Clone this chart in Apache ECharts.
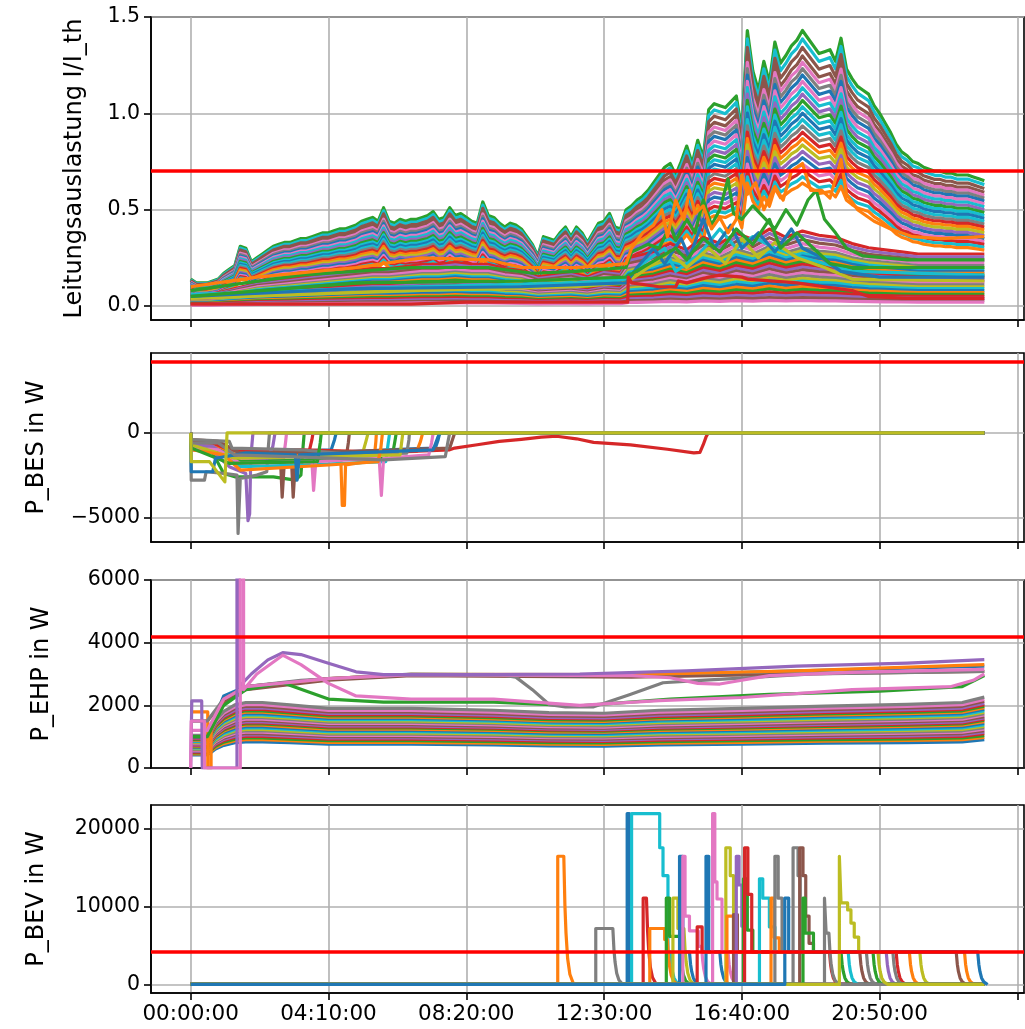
<!DOCTYPE html>
<html>
<head>
<meta charset="utf-8">
<script src="https://cdn.jsdelivr.net/npm/echarts@6/dist/echarts.min.js"></script>
<style>
  html, body { margin: 0; padding: 0; background: #fff; }
  #chart { width: 1025px; height: 1029px; }
</style>
</head>
<body>
<div id="chart"></div>
<script>
// ---- time axis (minutes since midnight) ----
const dayEnd = 1440;
const timeTicks = [0, 250, 500, 750, 1000, 1250, 1500];
const timeLabels = ["00:00:00", "04:10:00", "08:20:00", "12:30:00", "16:40:00", "20:50:00", ""];

// ---- panel 1: line loading I/I_th ----
const limitLoad = 0.7;
const loadStep = 10; // minutes between samples of loadTop
// highest feeder (top envelope), read every 10 min
const loadTop = [
  0.14, 0.12, 0.12, 0.12, 0.13, 0.14, 0.17, 0.19, 0.21, 0.31,
  0.30, 0.23, 0.25, 0.27, 0.29, 0.31, 0.32, 0.33, 0.33, 0.34,
  0.35, 0.35, 0.36, 0.37, 0.38, 0.38, 0.39, 0.40, 0.40, 0.41,
  0.42, 0.44, 0.45, 0.46, 0.44, 0.51, 0.44, 0.43, 0.45, 0.44,
  0.45, 0.45, 0.46, 0.47, 0.49, 0.45, 0.46, 0.51, 0.47, 0.48,
  0.46, 0.44, 0.43, 0.54, 0.47, 0.46, 0.43, 0.41, 0.43, 0.42,
  0.40, 0.36, 0.32, 0.26, 0.36, 0.35, 0.34, 0.38, 0.41, 0.36,
  0.41, 0.38, 0.33, 0.38, 0.43, 0.44, 0.48, 0.41, 0.40, 0.50,
  0.52, 0.55, 0.57, 0.60, 0.64, 0.68, 0.72, 0.74, 0.68, 0.75,
  0.83, 0.74, 0.86, 0.77, 1.02, 1.05, 1.04, 1.03, 1.06, 1.09,
  0.91, 1.43, 1.22, 1.12, 1.27, 1.16, 1.37, 1.26, 1.30, 1.35,
  1.38, 1.43, 1.39, 1.35, 1.31, 1.32, 1.33, 1.27, 1.39, 1.23,
  1.18, 1.14, 1.12, 1.10, 1.04, 1.00, 0.95, 0.90, 0.84, 0.80,
  0.78, 0.75, 0.74, 0.72, 0.71, 0.70, 0.70, 0.69, 0.69, 0.68,
  0.68, 0.68, 0.67, 0.66, 0.65
];
// a typical lower feeder, read every 30 min
const loadLow = [
  [0, 0.05], [30, 0.05], [60, 0.07], [90, 0.09], [120, 0.11], [150, 0.12], [180, 0.13],
  [210, 0.14], [240, 0.15], [270, 0.16], [300, 0.17], [330, 0.18], [360, 0.18], [390, 0.19],
  [420, 0.20], [450, 0.20], [480, 0.21], [510, 0.20], [540, 0.20], [570, 0.18], [600, 0.17],
  [630, 0.14], [660, 0.15], [690, 0.16], [720, 0.14], [750, 0.17], [780, 0.16], [795, 0.23],
  [810, 0.24], [840, 0.26], [870, 0.30], [900, 0.27], [930, 0.33], [960, 0.30], [990, 0.35],
  [1020, 0.32], [1050, 0.37], [1080, 0.33], [1110, 0.36], [1140, 0.34], [1170, 0.33],
  [1200, 0.30], [1230, 0.28], [1260, 0.27], [1290, 0.26], [1320, 0.25], [1350, 0.25],
  [1380, 0.25], [1410, 0.25], [1440, 0.25]
];
// end-of-day level of each feeder (read at 23:59)
const eveningTop = [0.65, 0.63, 0.61, 0.59, 0.575, 0.56, 0.545, 0.53, 0.515, 0.5, 0.485, 0.47,
  0.455, 0.44, 0.425, 0.41, 0.395, 0.38, 0.365, 0.35, 0.335, 0.32, 0.305, 0.29];
const eveningLow = [0.27, 0.255, 0.24, 0.225, 0.21, 0.2, 0.19, 0.18, 0.17, 0.16, 0.15, 0.14,
  0.13, 0.12, 0.11, 0.1, 0.09, 0.08, 0.07, 0.06, 0.05, 0.04, 0.03, 0.02];
// feeders disturbed by EV charging in the afternoon
const loadOrange = [[0, 0.1], [120, 0.15], [300, 0.2], [420, 0.25], [540, 0.24], [600, 0.2], [700, 0.2],
  [790, 0.22], [800, 0.3], [820, 0.38], [840, 0.42], [855, 0.5], [865, 0.36], [880, 0.55], [895, 0.45],
  [905, 0.6], [915, 0.48], [930, 0.52], [945, 0.4], [960, 0.46], [975, 0.38], [990, 0.45], [1000, 0.68],
  [1010, 0.58], [1025, 0.64], [1040, 0.5], [1060, 0.62], [1075, 0.55], [1090, 0.7], [1110, 0.74],
  [1125, 0.6], [1145, 0.6], [1160, 0.56], [1180, 0.76], [1190, 0.58], [1210, 0.5], [1240, 0.44],
  [1270, 0.4], [1310, 0.36], [1360, 0.35], [1440, 0.36]];
const loadGreen = [[0, 0.08], [200, 0.16], [400, 0.2], [540, 0.2], [620, 0.17], [700, 0.18], [790, 0.2],
  [800, 0.28], [830, 0.32], [850, 0.3], [870, 0.42], [880, 0.34], [900, 0.45], [915, 0.38], [930, 0.55],
  [945, 0.42], [960, 0.5], [975, 0.66], [985, 0.48], [1000, 0.45], [1020, 0.52], [1040, 0.46], [1060, 0.4],
  [1080, 0.5], [1100, 0.42], [1120, 0.55], [1135, 0.6], [1150, 0.45], [1170, 0.38], [1190, 0.3],
  [1220, 0.26], [1300, 0.24], [1440, 0.24]];
const loadGreen2 = [[0, 0.05], [300, 0.12], [600, 0.13], [790, 0.15], [820, 0.2], [850, 0.25], [880, 0.3],
  [900, 0.24], [930, 0.35], [960, 0.28], [990, 0.4], [1020, 0.32], [1050, 0.45], [1070, 0.3], [1100, 0.38],
  [1130, 0.3], [1160, 0.22], [1200, 0.2], [1440, 0.2]];
const loadBlue = [[0, 0.05], [300, 0.09], [600, 0.1], [790, 0.12], [810, 0.2], [840, 0.3], [860, 0.22],
  [890, 0.35], [905, 0.25], [930, 0.45], [950, 0.3], [980, 0.42], [1000, 0.3], [1030, 0.38], [1060, 0.28],
  [1090, 0.4], [1110, 0.3], [1140, 0.26], [1180, 0.18], [1250, 0.15], [1440, 0.15]];
const loadOlive = [[0, 0.04], [400, 0.08], [700, 0.1], [790, 0.12], [830, 0.2], [870, 0.28], [900, 0.2],
  [940, 0.3], [970, 0.22], [1000, 0.35], [1030, 0.25], [1060, 0.33], [1100, 0.25], [1150, 0.2],
  [1200, 0.14], [1440, 0.13]];
const loadCyan = [[0, 0.06], [400, 0.1], [700, 0.12], [790, 0.14], [820, 0.22], [860, 0.3], [880, 0.18],
  [920, 0.26], [960, 0.4], [990, 0.3], [1020, 0.36], [1060, 0.3], [1100, 0.26], [1150, 0.22],
  [1200, 0.18], [1440, 0.16]];
const loadRed = [[0, 0.01], [400, 0.01], [500, 0.02], [600, 0.02], [793, 0.02], [794, 0.15], [800, 0.12],
  [850, 0.1], [880, 0.1], [885, 0.13], [900, 0.12], [940, 0.15], [960, 0.16], [1000, 0.15], [1010, 0.14],
  [1100, 0.12], [1150, 0.1], [1200, 0.08], [1230, 0.05], [1300, 0.04], [1440, 0.04]];

// ---- panel 2: battery storage P_BES (W) ----
const limitPower = 4200;
const besLines = [
  [[0, 0], [1, -700], [40, -800], [60, -1300], [100, -1400], [200, -1300], [300, -1100], [400, -950], [444, -900], [449, -400], [452, 0], [1440, 0]],
  [[0, 0], [1, -600], [40, -700], [70, -1300], [150, -1200], [272, -1100], [275, -4300], [279, -4300], [281, -1900], [320, -1700], [333, -1500], [336, -500], [337, 0], [1440, 0]],
  [[0, 0], [1, -800], [35, -900], [60, -2400], [80, -2600], [150, -2600], [190, -2800], [200, -2500], [204, -800], [206, 0], [1440, 0]],
  [[0, 0], [1, -500], [60, -700], [90, -1200], [215, -1100], [220, -400], [222, 0], [1440, 0]],
  [[0, 0], [1, -1000], [40, -1100], [70, -2000], [100, -2400], [104, -5200], [107, -4800], [109, -1500], [113, 0], [1440, 0]],
  [[0, 0], [1, -500], [40, -600], [80, -1500], [163, -1600], [166, -3800], [170, -1700], [183, -1700], [186, -3800], [190, -1700], [282, -1500], [286, -600], [288, 0], [1440, 0]],
  [[0, 0], [1, -600], [40, -700], [80, -1500], [168, -1600], [172, -600], [174, 0], [1440, 0]],
  [[0, 0], [1, -2800], [25, -2800], [28, -2300], [60, -2400], [84, -2500], [86, -5950], [88, -5950], [90, -2700], [120, -2500], [138, -2300], [141, -800], [143, 0], [1440, 0]],
  [[0, 0], [1, -500], [80, -1000], [312, -1200], [318, -500], [322, 0], [1440, 0]],
  [[0, 0], [1, -800], [60, -1000], [90, -2000], [200, -1900], [354, -1700], [358, -700], [361, 0], [1440, 0]],
  [[0, 0], [1, -600], [40, -700], [80, -1200], [255, -1000], [261, -400], [264, 0], [1440, 0]],
  [[0, 0], [1, -700], [50, -800], [90, -1400], [410, -1100], [417, -500], [421, 0], [1440, 0]],
  [[0, 0], [1, -600], [90, -1700], [365, -1500], [370, -600], [373, 0], [1440, 0]],
  [[0, 0], [1, -500], [40, -600], [70, -1000], [200, -1000], [300, -1100], [400, -1100], [470, -1000], [479, -900], [520, -700], [560, -500], [600, -380], [636, -250], [664, -200], [700, -350], [731, -560], [798, -710], [865, -970], [913, -1180], [924, -1150], [930, -700], [935, -250], [939, 0], [1440, 0]],
  [[0, 0], [1, -700], [40, -800], [70, -1400], [140, -1500], [149, -800], [153, 0], [1440, 0]],
  [[0, 0], [1, -400], [50, -500], [90, -1200], [300, -1100], [470, -900], [476, -300], [479, 0], [1440, 0]],
  [[0, 0], [1, -900], [50, -1000], [90, -1800], [220, -1700], [223, -3400], [227, -1700], [342, -1500], [346, -3700], [350, -1500], [432, -1300], [437, -600], [440, 0], [1440, 0]],
  [[0, 0], [1, -400], [70, -500], [75, -900], [200, -1000], [300, -1300], [392, -1200], [396, -400], [397, 0], [1440, 0]],
  [[0, 0], [1, -700], [80, -1500], [380, -1300], [383, -500], [385, 0], [1440, 0]],
  [[0, 0], [1, -1000], [60, -1300], [90, -2200], [250, -1900], [340, -1700], [345, -900], [348, 0], [1440, 0]],
  [[0, 0], [1, -900], [70, -1800], [230, -1700], [235, -600], [237, 0], [1440, 0]],
  [[0, 0], [1, -2300], [40, -2300], [45, -1500], [100, -1200], [190, -1300], [193, -2800], [197, -1300], [440, -1000], [448, -300], [452, 0], [1440, 0]],
  [[0, 0], [1, -600], [50, -600], [80, -1300], [350, -1600], [462, -1400], [467, -500], [470, 0], [1440, 0]],
  [[0, 0], [1, -1700], [34, -1700], [62, -2900], [65, -2900], [66, 0], [1440, 0]]
];
const besColors = ["blue", "orange", "green", "red", "purple", "brown", "pink", "gray", "olive", "cyan",
  "blue", "orange", "green", "red", "purple", "brown", "pink", "gray", "olive", "orange",
  "green", "blue", "gray", "olive"];

// ---- panel 3: heat pumps P_EHP (W) ----
const ehpTimes = [0, 28, 35, 45, 60, 80, 100, 130, 180, 250, 400, 550, 650, 750, 850, 1000, 1150, 1300, 1400, 1440];
const ehpShape = [0.55, 0.55, 0.62, 0.8, 0.95, 1.06, 1.1, 1.1, 1.06, 1.0, 1.0, 0.97, 0.93, 0.92, 0.97, 1.0, 1.04, 1.07, 1.1, 1.19];
const ehpLevels = [760, 820, 870, 920, 960, 1000, 1040, 1080, 1120, 1160, 1200, 1240, 1280, 1310,
  1340, 1380, 1420, 1460, 1500, 1540, 1580, 1620, 1660, 1700, 1740, 1790, 1840, 1900];
const ehpUpper = [
  [[0, 1500], [30, 1500], [60, 2100], [100, 2500], [250, 2800], [400, 2950], [800, 2900], [1100, 3000], [1440, 3080]],
  [[0, 1000], [30, 1000], [60, 2300], [100, 2600], [250, 2850], [400, 2980], [706, 2950], [1000, 3050], [1440, 3250]],
  [[0, 1790], [31, 1790], [31, 0], [37, 0], [37, 1200], [60, 2200], [100, 2600], [250, 2850], [400, 2990], [800, 2980], [1100, 3100], [1440, 3300]],
  [[0, 1000], [30, 1000], [60, 2000], [100, 2500], [167, 2720], [250, 2200], [350, 2100], [550, 2100], [706, 1980], [870, 2200], [1050, 2350], [1250, 2450], [1400, 2600], [1440, 2950]],
  [[0, 1500], [30, 1500], [60, 2200], [100, 2600], [200, 2800], [400, 3000], [560, 2980], [590, 2900], [620, 2500], [651, 2020], [680, 1950], [730, 1950], [796, 2340], [857, 2720], [918, 2790], [1129, 3000], [1440, 3080]],
  [[0, 1200], [30, 1200], [60, 2200], [100, 2600], [250, 2850], [400, 2980], [800, 2950], [870, 2880], [920, 2700], [960, 2680], [1000, 2800], [1050, 2950], [1200, 3050], [1440, 3150]],
  [[0, 0], [2, 2140], [20, 2140], [21, 0], [84, 0], [84, 6500], [88, 6500], [88, 2600], [110, 3000], [140, 3450], [167, 3680], [200, 3620], [247, 3360], [300, 3070], [350, 2980], [500, 2980], [706, 3000], [900, 3100], [1100, 3250], [1300, 3350], [1440, 3460]],
  [[0, 0], [1, 1500], [25, 1500], [25, 0], [90, 0], [90, 6500], [96, 6500], [96, 2500], [120, 3000], [167, 3600], [200, 3300], [250, 2700], [300, 2300], [400, 2200], [550, 2200], [706, 2000], [850, 2150], [1000, 2250], [1200, 2500], [1380, 2600], [1420, 2800], [1440, 3000]]
];
const ehpUpperColors = ["brown", "blue", "orange", "green", "gray", "pink", "purple", "pink"];

// ---- panel 4: EV charging P_BEV (W) ----
// each event: [minute, W] points; decay starts at the last point
const decayShape = [[0, 1], [2, 0.62], [4, 0.4], [7, 0.2], [11, 0.08], [18, 0]];
const bevEvents = [
  [[666, 16500], [677, 16500]],
  [[735, 7200], [766, 7200]],
  [[792, 22000], [796, 22000], [796, 0]],
  [[800, 22000], [851, 22000], [851, 17600], [857, 17600], [857, 14000], [866, 14000], [866, 4200], [870, 4200]],
  [[821, 11100], [827, 11100]],
  [[833, 7200], [860, 7200], [860, 5800], [865, 5800]],
  [[863, 11100], [869, 11100], [869, 6200], [887, 6200]],
  [[875, 11100], [884, 11100], [884, 7200], [895, 7200]],
  [[887, 16500], [893, 16500], [893, 4200], [905, 4200]],
  [[893, 16500], [897, 16500], [897, 8800], [905, 8800], [905, 6900], [921, 6900], [921, 4900], [927, 4900]],
  [[919, 7400], [928, 7400], [928, 4200], [1280, 4200]],
  [[935, 16500], [940, 16500], [940, 4200], [960, 4200]],
  [[947, 22000], [951, 22000], [951, 13200], [955, 13200], [955, 11000], [964, 11000], [964, 4200], [975, 4200]],
  [[971, 17600], [979, 17600], [979, 14000], [985, 14000], [985, 4200], [1323, 4200]],
  [[973, 8800], [985, 8800], [985, 4200], [1404, 4200]],
  [[985, 9000], [992, 9000], [992, 4200], [1214, 4200]],
  [[990, 16500], [995, 16500], [995, 12800], [1000, 12800], [1000, 7500], [1005, 7500], [1005, 4200], [1262, 4200]],
  [[1003, 13600], [1010, 13600], [1010, 7000], [1020, 7000], [1020, 4200], [1180, 4200]],
  [[1005, 17600], [1011, 17600], [1011, 11600], [1018, 11600], [1018, 4200], [1159, 4200]],
  [[1032, 13600], [1038, 13600], [1038, 11100], [1050, 11100], [1050, 7400], [1060, 7400], [1060, 4200], [1193, 4200]],
  [[1053, 11100], [1059, 11100], [1059, 6000], [1068, 6000], [1068, 4200], [1304, 4200]],
  [[1060, 16500], [1066, 16500], [1066, 11100], [1073, 11100], [1073, 4200], [1226, 4200]],
  [[1093, 17600], [1102, 17600], [1102, 14000], [1106, 14000], [1106, 4200], [1274, 4200]],
  [[1105, 17600], [1111, 17600], [1111, 14000], [1116, 14000], [1116, 8800], [1122, 8800], [1122, 5300], [1130, 5300], [1130, 4200], [1389, 4200]],
  [[1111, 11100], [1115, 11100], [1115, 6600], [1130, 6600], [1130, 4200], [1238, 4200]],
  [[1150, 11100], [1153, 11100], [1153, 6600], [1158, 6600]],
  [[1177, 16500], [1180, 16500], [1180, 10500], [1192, 10500], [1192, 9600], [1198, 9600], [1198, 7900], [1204, 7900], [1204, 6100], [1212, 6100], [1212, 4200], [1247, 4200]],
  [[1078, 11100], [1085, 11100], [1085, 4200], [1428, 4200]]
];
const bevColors = ["orange", "gray", "blue", "cyan", "red", "orange", "green", "olive", "blue", "pink",
  "red", "blue", "pink", "olive", "orange", "brown", "purple", "green", "red", "cyan",
  "orange", "gray", "gray", "brown", "green", "gray", "olive", "blue"];

// ---- styling ----
const FONT = "DejaVu Sans";
const LW = 3.2; // data line width
const tab = {
  blue: "#1f77b4", orange: "#ff7f0e", green: "#2ca02c", red: "#d62728", purple: "#9467bd",
  brown: "#8c564b", pink: "#e377c2", gray: "#7f7f7f", olive: "#bcbd22", cyan: "#17becf"
};
const cycle = ["blue", "orange", "green", "red", "purple", "brown", "pink", "gray", "olive", "cyan"];
const topColors = ["green", "cyan", "brown", "brown", "pink", "gray", "blue", "pink", "cyan", "purple",
  "green", "cyan", "blue", "cyan", "gray", "red", "orange", "olive", "purple", "blue", "pink", "red",
  "cyan", "orange"];

const panels = [
  { top: 17, height: 303, min: -0.0725, max: 1.5, ticks: [0, 0.5, 1, 1.5], name: "Leitungsauslastung I/I_th", gap: 64,
    fmt: v => v.toFixed(1), limit: limitLoad },
  { top: 353, height: 189, min: -6460, max: 4730, ticks: [-5000, 0], name: "P_BES in W", gap: 102,
    fmt: v => (v < 0 ? "\u2212" + Math.abs(v) : String(v)), limit: limitPower },
  { top: 580, height: 188, min: 0, max: 6000, ticks: [0, 2000, 4000, 6000], name: "P_EHP in W", gap: 97,
    fmt: v => String(v), limit: limitPower },
  { top: 805, height: 188, min: -1100, max: 23100, ticks: [0, 10000, 20000], name: "P_BEV in W", gap: 102,
    fmt: v => String(v), limit: limitPower }
];

const grid = [], xAxis = [], yAxis = [], series = [];
panels.forEach((p, i) => {
  grid.push({ left: 151, width: 873, top: p.top, height: p.height, show: true,
    borderColor: "#000", borderWidth: 1.6, containLabel: false });
  xAxis.push({
    type: "value", gridIndex: i, min: -72, max: 1512,
    axisLine: { show: true, onZero: false, lineStyle: { color: "#000", width: 1.6 } },
    axisTick: { show: true, length: 7, customValues: timeTicks, lineStyle: { color: "#000", width: 1.6 } },
    axisLabel: { show: i === 3, customValues: timeTicks, margin: 10, fontSize: 21.5, fontFamily: FONT, color: "#000",
      formatter: v => timeLabels[timeTicks.indexOf(v)] || "" },
    splitLine: { show: true, lineStyle: { color: "#b0b0b0", width: 1.6 } }
  });
  yAxis.push({
    type: "value", gridIndex: i, min: p.min, max: p.max,
    name: p.name, nameLocation: "middle", nameGap: p.gap,
    nameTextStyle: { fontSize: 24, fontFamily: FONT, color: "#000" },
    axisLine: { show: true, onZero: false, lineStyle: { color: "#000", width: 1.6 } },
    axisTick: { show: true, length: 7, customValues: p.ticks, lineStyle: { color: "#000", width: 1.6 } },
    axisLabel: { customValues: p.ticks, margin: 11, fontSize: 20.5, fontFamily: FONT, color: "#000", formatter: p.fmt },
    splitLine: { show: true, lineStyle: { color: "#b0b0b0", width: 1.6 } }
  });
});

function line(panel, data, colorName) {
  const c = tab[colorName];
  return {
    type: "line", xAxisIndex: panel, yAxisIndex: panel, data: data,
    symbol: "none", showSymbol: false, silent: true, animation: false, clip: true,
    color: c, lineStyle: { color: c, width: LW, join: "round" }, z: 2
  };
}

// panel 1
const topEnd = loadTop[loadTop.length - 1];
eveningTop.forEach((lvl, i) => {
  series.push(line(0, loadTop.map((v, k) => [k * loadStep, +(v * lvl / topEnd).toFixed(4)]), topColors[i]));
});
const lowEnd = loadLow[loadLow.length - 1][1];
eveningLow.forEach((lvl, i) => {
  series.push(line(0, loadLow.map(([t, v]) => [t, +(v * lvl / lowEnd).toFixed(4)]), cycle[(i + 3) % 10]));
});
[[loadCyan, "cyan"], [loadOlive, "olive"], [loadBlue, "blue"], [loadGreen2, "green"],
 [loadGreen, "green"], [loadOrange, "orange"], [loadRed, "red"]].forEach(([d, c]) => series.push(line(0, d, c)));

// panel 2
besLines.forEach((d, i) => series.push(line(1, d, besColors[i])));

// panel 3
ehpLevels.forEach((lvl, i) => {
  series.push(line(2, ehpTimes.map((t, k) => [t, Math.round(ehpShape[k] * lvl)]), cycle[i % 10]));
});
ehpUpper.forEach((d, i) => series.push(line(2, d, ehpUpperColors[i])));

// panel 4
function bevSeries(pts) {
  const out = [[0, 0], [pts[0][0], 0]].concat(pts);
  const [t1, v1] = pts[pts.length - 1];
  if (v1 > 0) decayShape.forEach(([dt, f]) => { if (dt > 0) out.push([t1 + dt, +(v1 * f).toFixed(1)]); });
  if (out[out.length - 1][0] < dayEnd) out.push([dayEnd, 0]);
  return out;
}
bevEvents.forEach((ev, i) => series.push(line(3, bevSeries(ev), bevColors[i])));

// red limit lines
panels.forEach((p, i) => {
  series.push({
    type: "line", xAxisIndex: i, yAxisIndex: i, data: [], silent: true, animation: false, z: 5,
    markLine: { symbol: "none", silent: true, animation: false, label: { show: false },
      lineStyle: { color: "#ff0000", width: 3.6, type: "solid" }, data: [{ yAxis: p.limit }] }
  });
});

const chart = echarts.init(document.getElementById("chart"), null, { renderer: "canvas" });
chart.setOption({
  backgroundColor: "#fff",
  animation: false,
  grid: grid,
  xAxis: xAxis,
  yAxis: yAxis,
  series: series
});
</script>
</body>
</html>
